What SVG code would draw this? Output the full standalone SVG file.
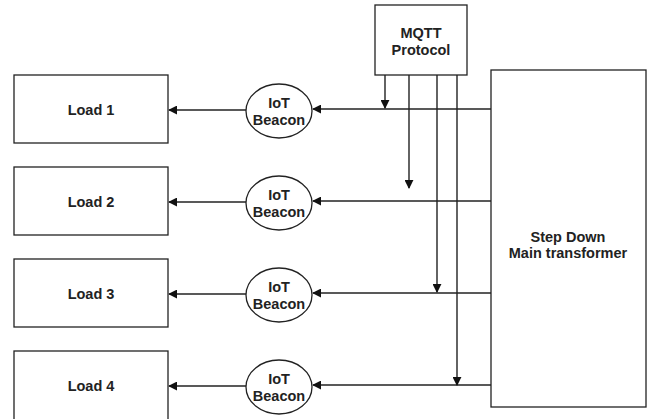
<svg xmlns="http://www.w3.org/2000/svg" width="649" height="419" viewBox="0 0 649 419">
<defs>
<style>
.box{fill:#fff;stroke:#222;stroke-width:1.3}
.t{font-family:"Liberation Sans",Arial,sans-serif;font-size:14.5px;font-weight:bold;fill:#222;text-anchor:middle}
.c{fill:none;stroke:#222;stroke-width:1.4}
</style>
<marker id="ah" viewBox="0 0 10 10" refX="9" refY="5" markerWidth="9" markerHeight="9" markerUnits="userSpaceOnUse" orient="auto">
<path d="M0,0 L10,5 L0,10 z" fill="#111"/>
</marker>
</defs>
<rect width="649" height="419" fill="#fff"/>
<g id="connectors">
<path class="c" d="M491,109 H313" marker-end="url(#ah)"/>
<path class="c" d="M491,201 H313" marker-end="url(#ah)"/>
<path class="c" d="M491,293 H313" marker-end="url(#ah)"/>
<path class="c" d="M491,385 H313" marker-end="url(#ah)"/>
<path class="c" d="M246,110 H169" marker-end="url(#ah)"/>
<path class="c" d="M246,202 H169" marker-end="url(#ah)"/>
<path class="c" d="M246,294 H169" marker-end="url(#ah)"/>
<path class="c" d="M246,386 H169" marker-end="url(#ah)"/>
<path class="c" d="M385,75 V108" marker-end="url(#ah)"/>
<path class="c" d="M409,75 V188" marker-end="url(#ah)"/>
<path class="c" d="M437,75 V292" marker-end="url(#ah)"/>
<path class="c" d="M457,75 V385" marker-end="url(#ah)"/>
</g>
<g id="mqtt">
<rect class="box" x="375" y="5" width="92" height="70"/>
<text class="t" x="421" y="38">MQTT</text>
<text class="t" x="421" y="55">Protocol</text>
</g>
<g id="transformer">
<rect class="box" x="491" y="70" width="155" height="337"/>
<text class="t" x="568" y="242">Step Down</text>
<text class="t" x="568" y="258">Main transformer</text>
</g>
<g id="load1"><rect class="box" x="14" y="75" width="154" height="68"/><text class="t" x="91" y="115">Load 1</text></g>
<g id="load2"><rect class="box" x="14" y="167" width="154" height="68"/><text class="t" x="91" y="207">Load 2</text></g>
<g id="load3"><rect class="box" x="14" y="259" width="154" height="68"/><text class="t" x="91" y="299">Load 3</text></g>
<g id="load4"><rect class="box" x="14" y="351" width="154" height="72"/><text class="t" x="91" y="391">Load 4</text></g>
<g id="beacon1"><ellipse class="box" cx="279" cy="111" rx="33" ry="27"/><text class="t" x="279" y="108">IoT</text><text class="t" x="279" y="125">Beacon</text></g>
<g id="beacon2"><ellipse class="box" cx="279" cy="203" rx="33" ry="27"/><text class="t" x="279" y="200">IoT</text><text class="t" x="279" y="217">Beacon</text></g>
<g id="beacon3"><ellipse class="box" cx="279" cy="295" rx="33" ry="27"/><text class="t" x="279" y="292">IoT</text><text class="t" x="279" y="309">Beacon</text></g>
<g id="beacon4"><ellipse class="box" cx="279" cy="387" rx="33" ry="27"/><text class="t" x="279" y="384">IoT</text><text class="t" x="279" y="401">Beacon</text></g>
</svg>
